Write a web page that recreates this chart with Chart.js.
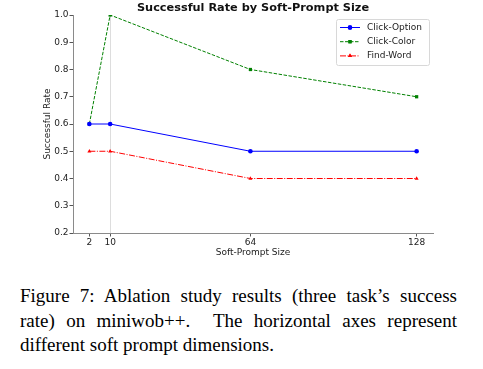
<!DOCTYPE html>
<html>
<head>
<meta charset="utf-8">
<script src="https://cdn.jsdelivr.net/npm/chart.js@4.4.0/dist/chart.umd.min.js"></script>
<style>
  html, body { margin: 0; padding: 0; background: #fff; }
  #wrap { position: relative; width: 483px; height: 369px; overflow: hidden; }
  #grafico { position: absolute; left: 0; top: 0; }
  #caption {
    position: absolute; left: 20px; top: 284px; width: 437px;
    font-family: "Liberation Serif", "DejaVu Serif", serif;
    font-size: 19px; line-height: 24.5px; text-align: justify; color: #000;
  }
</style>
</head>
<body>
<div id="wrap">
  <canvas id="grafico" width="483" height="262"></canvas>
  <div id="caption">Figure 7: Ablation study results (three task’s success rate) on miniwob++. &nbsp;The horizontal axes represent different soft prompt dimensions.</div>
</div>
<script>
// ============================
// DATOS
// ============================
const tamanos = [2, 10, 64, 128];
const clickOption = [0.6, 0.6, 0.5, 0.5];
const clickColor = [0.6, 1.0, 0.8, 0.7];
const findWord = [0.5, 0.5, 0.4, 0.4];
const yTicks = [0.2, 0.3, 0.4, 0.5, 0.6, 0.7, 0.8, 0.9, 1.0];
const titulo = "Successful Rate by Soft-Prompt Size";

const FUENTE = "'DejaVu Sans', sans-serif";

const series = [
  { label: "Click-Option", data: clickOption, color: "#0000ff", dash: [], point: "circle" },
  { label: "Click-Color", data: clickColor, color: "#008000", dash: [3.5, 1.5], point: "rect" },
  { label: "Find-Word", data: findWord, color: "#ff0000", dash: [6, 1.5, 1, 1.5], point: "triangle" },
];

// ============================
// TÍTULO Y LEYENDA PROPIOS
// ============================
const extrasPlugin = {
  id: "extras",
  afterDraw(chart) {
    const ctx = chart.ctx;
    const area = chart.chartArea;
    ctx.save();
    // título centrado sobre el área
    ctx.fillStyle = "#111";
    ctx.font = "bold 11.3px " + FUENTE;
    ctx.textAlign = "center";
    ctx.textBaseline = "middle";
    ctx.fillText(titulo, (area.left + area.right) / 2, 8);

    // leyenda arriba a la derecha
    const x0 = 336, y0 = 19, w = 93, h = 46;
    ctx.fillStyle = "rgba(255,255,255,0.8)";
    ctx.strokeStyle = "#d8d8d8";
    ctx.lineWidth = 1;
    ctx.beginPath();
    ctx.roundRect(x0 + 0.5, y0 + 0.5, w, h, 2);
    ctx.fill();
    ctx.stroke();
    ctx.textAlign = "left";
    series.forEach((s, i) => {
      const y = 27.5 + i * 14.2;
      ctx.strokeStyle = s.color;
      ctx.lineWidth = 1;
      ctx.setLineDash(s.dash);
      ctx.beginPath();
      ctx.moveTo(340, y);
      ctx.lineTo(360, y);
      ctx.stroke();
      ctx.setLineDash([]);
      ctx.fillStyle = s.color;
      Chart.helpers.drawPoint(ctx, { pointStyle: s.point, radius: 2.3, rotation: 0, borderWidth: 0 }, 350, y);
      ctx.fill();
      ctx.fillStyle = "#222";
      ctx.font = "9px " + FUENTE;
      ctx.fillText(s.label, 367, y);
    });
    ctx.restore();
  },
};

// ============================
// GRÁFICO
// ============================
new Chart(document.getElementById("grafico"), {
  type: "line",
  data: {
    datasets: series.map((s) => ({
      label: s.label,
      data: tamanos.map((t, i) => ({ x: t, y: s.data[i] })),
      borderColor: s.color,
      backgroundColor: s.color,
      borderWidth: 1,
      borderDash: s.dash,
      pointStyle: s.point,
      pointRadius: 2.3,
      pointBorderWidth: 0,
      tension: 0,
    })),
  },
  options: {
    responsive: false,
    animation: false,
    layout: { padding: { left: 42, right: 50, top: 15, bottom: 4 } },
    plugins: {
      legend: { display: false },
      tooltip: { enabled: false },
      title: { display: false },
    },
    scales: {
      x: {
        type: "linear",
        min: -4.3,
        max: 134.3,
        afterBuildTicks: (scale) => { scale.ticks = tamanos.map((v) => ({ value: v })); },
        afterFit: (scale) => { scale.height = 25; },
        ticks: { color: "#222", font: { family: FUENTE, size: 9 }, padding: 1, maxRotation: 0, autoSkip: false },
        grid: {
          color: (c) => (c.tick && c.tick.value === 10 ? "#dddddd" : "rgba(0,0,0,0)"),
          tickColor: "#555",
          tickLength: 3.5,
          lineWidth: 1,
        },
        border: { color: "#8a8a8a", width: 1 },
        title: {
          display: true, text: "Soft-Prompt Size", color: "#222",
          font: { family: FUENTE, size: 9 }, padding: { top: 0, bottom: 0 },
        },
      },
      y: {
        min: 0.2,
        max: 1.0,
        afterBuildTicks: (scale) => { scale.ticks = yTicks.map((v) => ({ value: v })); },
        afterFit: (scale) => { scale.width = 31; },
        ticks: { color: "#222", font: { family: FUENTE, size: 9 }, padding: 1, callback: (v) => v.toFixed(1) },
        grid: { drawOnChartArea: false, tickColor: "#555", tickLength: 3.5 },
        border: { color: "#8a8a8a", width: 1 },
        title: {
          display: true, text: "Successful Rate", color: "#222",
          font: { family: FUENTE, size: 9 }, padding: { top: 0, bottom: 0 },
        },
      },
    },
  },
  plugins: [extrasPlugin],
});
</script>
</body>
</html>
